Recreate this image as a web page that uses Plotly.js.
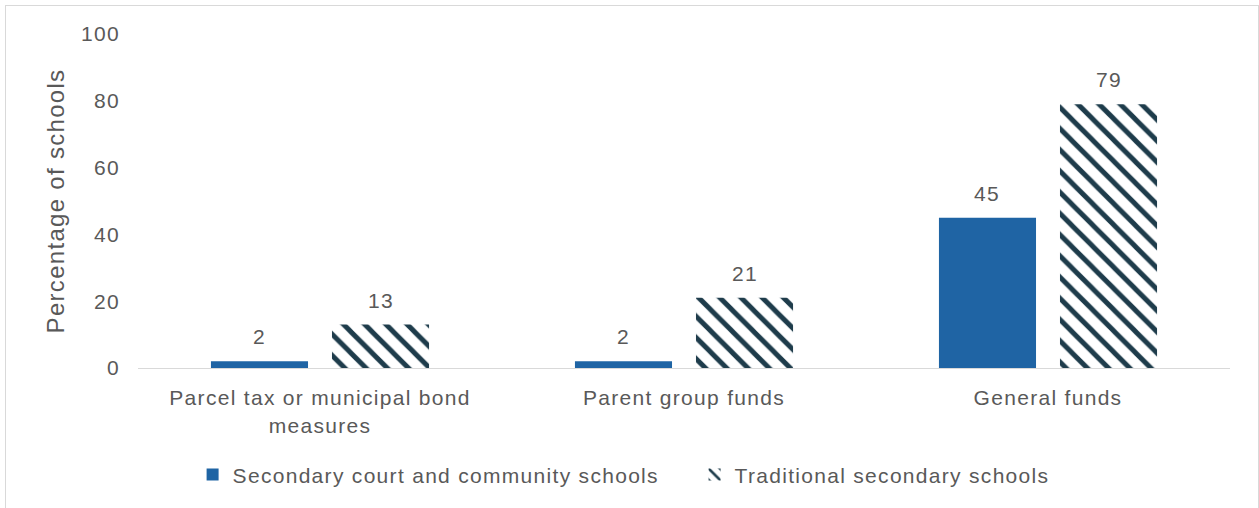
<!DOCTYPE html>
<html><head><meta charset="utf-8">
<script src="https://cdn.plot.ly/plotly-3.0.1.min.js"></script>
<style>
html,body{margin:0;padding:0;background:#fff;}
#wrap{position:relative;width:1259px;height:508px;overflow:hidden;}
#chart{position:absolute;left:0;top:0;width:1259px;height:508px;}
#frame{position:absolute;left:5px;top:5px;width:1252px;height:520px;border:1px solid #d9d9d9;pointer-events:none;}
svg text{letter-spacing:1.3px;}
</style></head>
<body><div id="wrap"><div id="chart"></div><div id="frame"></div></div>
<script>
const categories = ["Parcel tax or municipal bond<br>measures", "Parent group funds", "General funds"];
const seriesNames = ["Secondary court and community schools", "Traditional secondary schools"];
const courtCommunity = [2, 2, 45];
const traditional = [13, 21, 79];
const yTicks = [0, 20, 40, 60, 80, 100];

const font = {family: "Liberation Sans, Arial, sans-serif", size: 21, color: "#595959"};

const traces = [
  {type: "bar", name: seriesNames[0], x: categories, y: courtCommunity,
   marker: {color: "#1f64a4"}, hoverinfo: "none"},
  {type: "bar", name: seriesNames[1], x: categories, y: traditional,
   marker: {color: "#ffffff", line: {width: 0},
            pattern: {shape: "\\", fgcolor: "#1e3c4b", bgcolor: "#ffffff", size: 15, solidity: 0.33}},
   hoverinfo: "none"}
];

const bargap = 0.335;
const slotPx = (1 - bargap) / 2 * 364;
const annotations = [];
[courtCommunity, traditional].forEach((vals, si) => {
  vals.forEach((v, i) => {
    annotations.push({x: categories[i], y: v, xref: "x", yref: "y", text: String(v),
      showarrow: false, yanchor: "bottom", xanchor: "center",
      xshift: (si === 0 ? -1 : 1) * slotPx / 2, yshift: 11, font: font});
  });
});

const layout = {
  width: 1259, height: 508,
  margin: {l: 138, r: 29, t: 34, b: 140, autoexpand: false},
  paper_bgcolor: "rgba(0,0,0,0)", plot_bgcolor: "#fff",
  font: font,
  barmode: "group", bargap: bargap, bargroupgap: 0.198,
  xaxis: {type: "category", showgrid: false, zeroline: false, showline: true,
          linecolor: "#d9d9d9", linewidth: 1, ticks: "", tickfont: font, automargin: false,
          ticklabelstandoff: 11},
  yaxis: {range: [0, 100], tickvals: yTicks, ticktext: yTicks.map(String),
          showgrid: false, zeroline: false, showline: false, ticks: "",
          ticklabelstandoff: 17,
          tickfont: font, automargin: false,
          title: {text: "Percentage of schools", font: {family: font.family, size: 24, color: "#595959"}, standoff: 9}},
  annotations: annotations,
  showlegend: true,
  legend: {orientation: "h", x: 0.05, xanchor: "left", y: -0.32, yanchor: "middle",
           font: font, traceorder: "normal", entrywidth: 457},
};

Plotly.newPlot("chart", traces, layout, {staticPlot: true, displayModeBar: false});
</script></body></html>
